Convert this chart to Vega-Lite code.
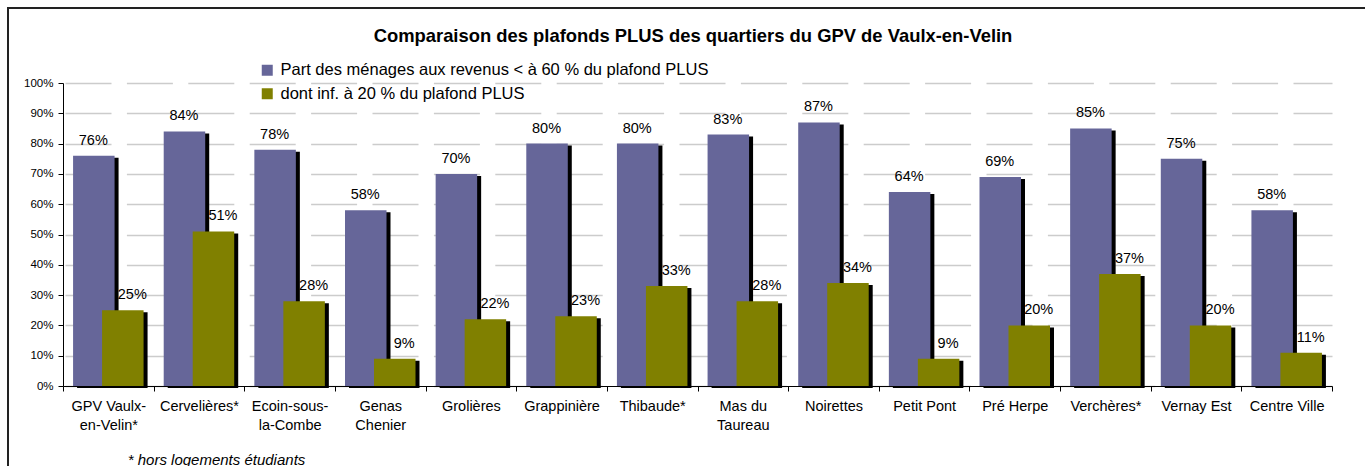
{
  "$schema": "https://vega.github.io/schema/vega-lite/v6.json",
  "width": 1365,
  "height": 470,
  "autosize": {"type": "none"},
  "padding": {"left": 8, "top": 8, "right": 0, "bottom": 0},
  "background": "white",
  "config": {
    "font": "Liberation Sans",
    "view": {"stroke": "#222222", "strokeWidth": 2}
  },
  "title": {
    "text": "Comparaison des plafonds PLUS des quartiers du GPV de Vaulx-en-Velin",
    "fontSize": 18.4,
    "fontWeight": "bold",
    "color": "#000000",
    "anchor": "middle",
    "frame": "group",
    "offset": -37,
    "dx": 2.5
  },
  "data": {
    "values": [
      {"quartier": "GPV Vaulx-en-Velin*", "serie": "Part des ménages aux revenus < à 60 % du plafond PLUS", "valeur": 0.76},
      {"quartier": "Cervelières*", "serie": "Part des ménages aux revenus < à 60 % du plafond PLUS", "valeur": 0.84},
      {"quartier": "Ecoin-sous-la-Combe", "serie": "Part des ménages aux revenus < à 60 % du plafond PLUS", "valeur": 0.78},
      {"quartier": "Genas Chenier", "serie": "Part des ménages aux revenus < à 60 % du plafond PLUS", "valeur": 0.58},
      {"quartier": "Grolières", "serie": "Part des ménages aux revenus < à 60 % du plafond PLUS", "valeur": 0.70},
      {"quartier": "Grappinière", "serie": "Part des ménages aux revenus < à 60 % du plafond PLUS", "valeur": 0.80},
      {"quartier": "Thibaude*", "serie": "Part des ménages aux revenus < à 60 % du plafond PLUS", "valeur": 0.80},
      {"quartier": "Mas du Taureau", "serie": "Part des ménages aux revenus < à 60 % du plafond PLUS", "valeur": 0.83},
      {"quartier": "Noirettes", "serie": "Part des ménages aux revenus < à 60 % du plafond PLUS", "valeur": 0.87},
      {"quartier": "Petit Pont", "serie": "Part des ménages aux revenus < à 60 % du plafond PLUS", "valeur": 0.64},
      {"quartier": "Pré Herpe", "serie": "Part des ménages aux revenus < à 60 % du plafond PLUS", "valeur": 0.69},
      {"quartier": "Verchères*", "serie": "Part des ménages aux revenus < à 60 % du plafond PLUS", "valeur": 0.85},
      {"quartier": "Vernay Est", "serie": "Part des ménages aux revenus < à 60 % du plafond PLUS", "valeur": 0.75},
      {"quartier": "Centre Ville", "serie": "Part des ménages aux revenus < à 60 % du plafond PLUS", "valeur": 0.58},
      {"quartier": "GPV Vaulx-en-Velin*", "serie": "dont inf. à 20 % du plafond PLUS", "valeur": 0.25},
      {"quartier": "Cervelières*", "serie": "dont inf. à 20 % du plafond PLUS", "valeur": 0.51},
      {"quartier": "Ecoin-sous-la-Combe", "serie": "dont inf. à 20 % du plafond PLUS", "valeur": 0.28},
      {"quartier": "Genas Chenier", "serie": "dont inf. à 20 % du plafond PLUS", "valeur": 0.09},
      {"quartier": "Grolières", "serie": "dont inf. à 20 % du plafond PLUS", "valeur": 0.22},
      {"quartier": "Grappinière", "serie": "dont inf. à 20 % du plafond PLUS", "valeur": 0.23},
      {"quartier": "Thibaude*", "serie": "dont inf. à 20 % du plafond PLUS", "valeur": 0.33},
      {"quartier": "Mas du Taureau", "serie": "dont inf. à 20 % du plafond PLUS", "valeur": 0.28},
      {"quartier": "Noirettes", "serie": "dont inf. à 20 % du plafond PLUS", "valeur": 0.34},
      {"quartier": "Petit Pont", "serie": "dont inf. à 20 % du plafond PLUS", "valeur": 0.09},
      {"quartier": "Pré Herpe", "serie": "dont inf. à 20 % du plafond PLUS", "valeur": 0.20},
      {"quartier": "Verchères*", "serie": "dont inf. à 20 % du plafond PLUS", "valeur": 0.37},
      {"quartier": "Vernay Est", "serie": "dont inf. à 20 % du plafond PLUS", "valeur": 0.20},
      {"quartier": "Centre Ville", "serie": "dont inf. à 20 % du plafond PLUS", "valeur": 0.11}
    ]
  },
  "encoding": {
    "x": {
      "field": "quartier",
      "type": "nominal",
      "sort": null,
      "scale": {"range": [55, 1324], "paddingInner": 0, "paddingOuter": 0},
      "axis": {
        "offset": -92,
        "title": "* hors logements étudiants",
        "titleFontStyle": "italic",
        "titleFontWeight": "normal",
        "titleFontSize": 15,
        "titleColor": "#000000",
        "titleX": 208,
        "titleY": 73,
        "titleAlign": "center",
        "titleBaseline": "middle",
        "titleAnchor": null,
        "labelAngle": 0,
        "labelFontSize": 14.5,
        "labelColor": "#000000",
        "labelPadding": 8,
        "labelLineHeight": 19,
        "labelBaseline": "top",
        "labelLimit": 200,
        "tickBand": "extent",
        "tickSize": 5,
        "tickColor": "#000000",
        "domainColor": "#000000",
        "grid": false,
        "labelExpr": "datum.value == 'GPV Vaulx-en-Velin*' ? ['GPV Vaulx-', 'en-Velin*'] : datum.value == 'Ecoin-sous-la-Combe' ? ['Ecoin-sous-', 'la-Combe'] : datum.value == 'Genas Chenier' ? ['Genas', 'Chenier'] : datum.value == 'Mas du Taureau' ? ['Mas du', 'Taureau'] : datum.value"
      }
    },
    "y": {
      "field": "valeur",
      "type": "quantitative",
      "scale": {"domain": [0, 1], "range": [378, 75], "nice": false},
      "axis": {
        "offset": -55,
        "title": null,
        "format": ".0%",
        "values": [0, 0.1, 0.2, 0.3, 0.4, 0.5, 0.6, 0.7, 0.8, 0.9, 1],
        "labelFontSize": 11.5,
        "labelColor": "#000000",
        "labelPadding": 5,
        "tickSize": 5,
        "tickColor": "#000000",
        "domainColor": "#000000",
        "grid": true,
        "gridColor": "#cccccc",
        "gridWidth": 1.5,
        "gridDash": [46, 15.4],
        "gridDashOffset": 59.4
      }
    }
  },
  "layer": [
    {
      "transform": [{"filter": {"field": "serie", "equal": "Part des ménages aux revenus < à 60 % du plafond PLUS"}}],
      "mark": {"type": "bar", "color": "#000000", "width": 41.5, "xOffset": -10.5, "yOffset": 2}
    },
    {
      "transform": [{"filter": {"field": "serie", "equal": "Part des ménages aux revenus < à 60 % du plafond PLUS"}}],
      "mark": {"type": "bar", "width": 41.5, "xOffset": -14.5},
      "encoding": {
        "color": {
          "field": "serie",
          "type": "nominal",
          "scale": {
            "domain": ["Part des ménages aux revenus < à 60 % du plafond PLUS", "dont inf. à 20 % du plafond PLUS"],
            "range": ["#666699", "#808000"]
          },
          "legend": {
            "orient": "none",
            "legendX": 251,
            "legendY": 54,
            "title": null,
            "symbolType": "square",
            "symbolSize": 121,
            "symbolStrokeWidth": 0,
            "labelFontSize": 16.5,
            "labelColor": "#000000",
            "labelLimit": 700,
            "labelOffset": 5,
            "rowPadding": 6.5,
            "padding": 0
          }
        }
      }
    },
    {
      "transform": [{"filter": {"field": "serie", "equal": "dont inf. à 20 % du plafond PLUS"}}],
      "mark": {"type": "bar", "color": "#000000", "width": 41.5, "xOffset": 18.5, "yOffset": 2}
    },
    {
      "transform": [{"filter": {"field": "serie", "equal": "dont inf. à 20 % du plafond PLUS"}}],
      "mark": {"type": "bar", "width": 41.5, "xOffset": 14.5},
      "encoding": {
        "color": {"field": "serie", "type": "nominal"}
      }
    },
    {
      "transform": [{"filter": {"field": "serie", "equal": "Part des ménages aux revenus < à 60 % du plafond PLUS"}}],
      "mark": {"type": "text", "fontSize": 14.5, "color": "#000000", "baseline": "alphabetic", "dy": -11, "xOffset": -15},
      "encoding": {"text": {"field": "valeur", "type": "quantitative", "format": ".0%"}}
    },
    {
      "transform": [{"filter": {"field": "serie", "equal": "dont inf. à 20 % du plafond PLUS"}}],
      "mark": {"type": "text", "fontSize": 14.5, "color": "#000000", "baseline": "alphabetic", "dy": -11, "xOffset": 24},
      "encoding": {"text": {"field": "valeur", "type": "quantitative", "format": ".0%"}}
    }
  ]
}
